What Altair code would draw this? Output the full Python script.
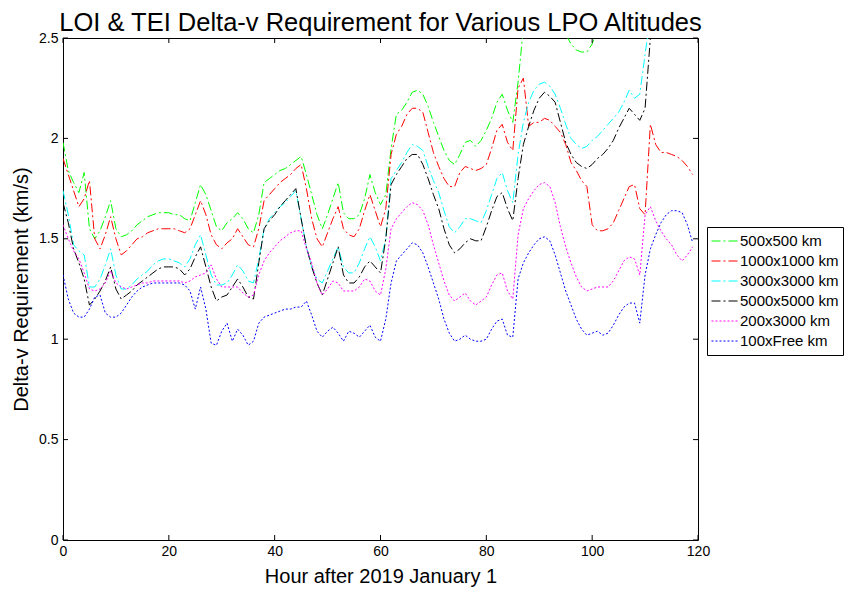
import altair as alt
import pandas as pd

hours = list(range(120))

names = ["500x500 km", "1000x1000 km", "3000x3000 km", "5000x5000 km", "200x3000 km", "100xFree km"]
colors = ["#00ff00", "#ff0000", "#00ffff", "#000000", "#ff00ff", "#0000ff"]

g500 = [1.98,1.84,1.78,1.73,1.83,1.55,1.50,1.54,1.61,1.69,
        1.55,1.51,1.52,1.54,1.57,1.59,1.61,1.62,1.63,1.63,
        1.63,1.62,1.62,1.60,1.59,1.68,1.77,1.72,1.64,1.56,
        1.54,1.58,1.60,1.63,1.60,1.55,1.53,1.62,1.78,1.80,
        1.82,1.84,1.85,1.87,1.89,1.91,1.82,1.72,1.62,1.55,
        1.62,1.70,1.78,1.63,1.60,1.60,1.62,1.70,1.82,1.73,
        1.67,1.72,1.95,2.12,2.14,2.18,2.23,2.24,2.22,2.16,
        2.08,2.01,1.94,1.89,1.87,1.92,1.98,1.99,1.96,1.99,
        2.04,2.10,2.18,2.22,2.14,2.08,2.28,2.55,2.75,2.85,
        2.90,2.90,2.85,2.75,2.60,2.52,2.47,2.44,2.43,2.43,
        2.47,2.55,2.62,2.68,2.74,2.80,2.86,2.92,2.90,2.95,
        3.10,3.30,3.40,3.45,3.40,3.35,3.30,3.25,3.20,3.15]

r1000 = [1.90,1.82,1.74,1.66,1.70,1.79,1.50,1.45,1.52,1.61,
         1.50,1.42,1.44,1.47,1.50,1.51,1.53,1.54,1.55,1.55,
         1.55,1.55,1.54,1.53,1.55,1.62,1.69,1.62,1.52,1.47,
         1.45,1.48,1.50,1.55,1.51,1.47,1.46,1.55,1.69,1.72,
         1.75,1.78,1.80,1.82,1.85,1.87,1.75,1.60,1.50,1.46,
         1.53,1.60,1.66,1.55,1.52,1.51,1.55,1.64,1.72,1.64,
         1.56,1.65,1.92,2.02,2.06,2.12,2.15,2.15,2.13,2.03,
         1.93,1.86,1.80,1.76,1.76,1.83,1.86,1.85,1.84,1.85,
         1.87,1.95,2.04,2.07,1.98,1.94,2.25,2.30,2.06,2.08,
         2.08,2.10,2.09,2.06,2.03,1.97,1.88,1.84,1.79,1.76,
         1.57,1.54,1.54,1.55,1.58,1.64,1.70,1.76,1.77,1.65,
         1.62,2.07,1.97,1.93,1.93,1.92,1.91,1.89,1.86,1.82]

c3000 = [1.74,1.62,1.47,1.44,1.42,1.26,1.26,1.30,1.37,1.45,
         1.32,1.25,1.25,1.27,1.30,1.32,1.34,1.37,1.39,1.40,
         1.40,1.39,1.38,1.36,1.40,1.47,1.52,1.42,1.32,1.27,
         1.27,1.28,1.32,1.37,1.34,1.29,1.28,1.40,1.55,1.60,
         1.63,1.66,1.68,1.71,1.74,1.60,1.46,1.36,1.30,1.28,
         1.34,1.40,1.46,1.36,1.33,1.33,1.38,1.45,1.51,1.46,
         1.39,1.50,1.80,1.84,1.88,1.93,1.97,1.96,1.94,1.86,
         1.79,1.73,1.64,1.56,1.53,1.56,1.60,1.60,1.59,1.58,
         1.64,1.72,1.80,1.83,1.74,1.68,1.92,2.08,2.18,2.24,
         2.27,2.28,2.26,2.22,2.15,2.07,2.00,1.97,1.95,1.96,
         1.99,2.01,2.04,2.07,2.10,2.13,2.18,2.24,2.20,2.22,
         2.42,2.60,2.75,2.85,2.90,2.95,3.00,3.05,3.10,3.15]

k5000 = [1.68,1.58,1.45,1.38,1.30,1.17,1.20,1.24,1.29,1.36,
         1.25,1.20,1.22,1.24,1.27,1.29,1.31,1.33,1.35,1.36,
         1.36,1.36,1.35,1.32,1.35,1.41,1.46,1.36,1.26,1.19,
         1.21,1.22,1.26,1.30,1.26,1.21,1.20,1.38,1.55,1.59,
         1.62,1.66,1.69,1.72,1.75,1.60,1.46,1.36,1.28,1.22,
         1.30,1.38,1.46,1.32,1.28,1.28,1.31,1.36,1.39,1.36,
         1.33,1.50,1.77,1.82,1.86,1.90,1.92,1.92,1.87,1.80,
         1.72,1.65,1.55,1.47,1.43,1.45,1.48,1.50,1.49,1.49,
         1.56,1.64,1.71,1.73,1.65,1.59,1.80,1.97,2.06,2.14,
         2.20,2.23,2.21,2.18,2.08,1.98,1.92,1.88,1.86,1.85,
         1.87,1.90,1.92,1.95,1.99,2.05,2.10,2.15,2.12,2.09,
         2.15,2.50,2.70,2.80,2.85,2.90,2.95,3.00,3.05,3.10]

m200 = [1.57,1.50,1.44,1.40,1.33,1.25,1.24,1.25,1.28,1.34,
        1.28,1.26,1.25,1.26,1.27,1.28,1.28,1.29,1.29,1.29,
        1.29,1.29,1.29,1.28,1.29,1.31,1.32,1.33,1.37,1.30,
        1.26,1.26,1.26,1.26,1.23,1.21,1.22,1.32,1.39,1.43,
        1.46,1.49,1.51,1.53,1.54,1.54,1.45,1.38,1.28,1.22,
        1.25,1.29,1.28,1.24,1.24,1.24,1.26,1.30,1.29,1.24,
        1.22,1.35,1.55,1.60,1.63,1.66,1.68,1.67,1.64,1.57,
        1.47,1.38,1.29,1.22,1.19,1.21,1.23,1.19,1.17,1.19,
        1.21,1.27,1.32,1.33,1.24,1.20,1.52,1.65,1.70,1.74,
        1.77,1.78,1.76,1.68,1.56,1.46,1.38,1.31,1.26,1.24,
        1.25,1.26,1.26,1.26,1.29,1.34,1.39,1.41,1.40,1.32,
        1.62,1.66,1.59,1.54,1.50,1.47,1.42,1.39,1.42,1.46]

b100 = [1.32,1.20,1.13,1.11,1.11,1.15,1.21,1.22,1.13,1.11,
        1.11,1.13,1.17,1.21,1.24,1.26,1.27,1.28,1.28,1.28,
        1.28,1.28,1.28,1.27,1.24,1.15,1.26,1.15,0.98,0.97,
        1.04,1.08,0.99,1.05,1.02,0.97,0.99,1.08,1.11,1.12,
        1.13,1.14,1.15,1.15,1.16,1.16,1.19,1.12,1.04,1.01,
        1.04,1.06,1.03,0.99,1.04,1.03,1.01,1.04,1.07,1.01,
        0.99,1.10,1.28,1.39,1.42,1.45,1.48,1.47,1.43,1.36,
        1.28,1.20,1.10,1.03,0.99,1.00,1.02,1.00,0.99,0.99,
        1.00,1.05,1.09,1.10,1.02,1.01,1.30,1.38,1.43,1.47,
        1.50,1.51,1.49,1.42,1.33,1.24,1.17,1.10,1.05,1.02,
        1.03,1.04,1.02,1.03,1.07,1.12,1.16,1.18,1.18,1.08,
        1.32,1.45,1.52,1.58,1.62,1.64,1.64,1.63,1.57,1.48]

x_ticks = [0, 20, 40, 60, 80, 100, 120]
y_ticks = [0, 0.5, 1, 1.5, 2, 2.5]

series = [g500, r1000, c3000, k5000, m200, b100]
rows = []
for name, vals in zip(names, series):
    for h, v in zip(hours, vals):
        rows.append({"hour": h, "dv": v, "series": name})
df = pd.DataFrame(rows)

W, H = 635, 502
FONT = "Liberation Sans"

xscale = alt.Scale(domain=[0, 120], nice=False)
yscale = alt.Scale(domain=[0, 2.5], nice=False)

legend = alt.Legend(
    title=None, orient="none", legendX=644, legendY=189,
    symbolType="stroke", symbolSize=729, symbolStrokeWidth=1, clipHeight=20,
    labelFontSize=15, labelFont=FONT, labelColor="black",
    strokeColor="black", fillColor="white", padding=4, rowPadding=0,
    labelOffset=1,
)

lines = alt.Chart(df).mark_line(clip=True, strokeWidth=1).encode(
    x=alt.X("hour:Q", scale=xscale,
            axis=alt.Axis(values=x_ticks, title="Hour after 2019 January 1", ticks=False,
                          domain=False, grid=False, labelPadding=4, titlePadding=8,
                          labelFlush=False)),
    y=alt.Y("dv:Q", scale=yscale,
            axis=alt.Axis(values=y_ticks, title="Delta-v Requirement (km/s)", ticks=False,
                          domain=False, grid=False, labelPadding=5, titlePadding=7,
                          labelFlush=False, labelExpr="'' + datum.value")),
    color=alt.Color("series:N", scale=alt.Scale(domain=names, range=colors), legend=legend),
    strokeDash=alt.StrokeDash("series:N",
                              scale=alt.Scale(domain=names,
                                              range=[[9, 3, 2, 3]] * 4 + [[2, 2]] * 2),
                              legend=legend),
    order=alt.Order("hour:Q"),
)

xt = pd.DataFrame({"t": x_ticks})
yt = pd.DataFrame({"t": y_ticks})

xb = alt.Chart(xt).mark_rule(color="black", strokeWidth=1).encode(
    x=alt.X("t:Q", scale=xscale), y=alt.value(H), y2=alt.value(H - 5))
xtop = alt.Chart(xt).mark_rule(color="black", strokeWidth=1).encode(
    x=alt.X("t:Q", scale=xscale), y=alt.value(0), y2=alt.value(5))
yl = alt.Chart(yt).mark_rule(color="black", strokeWidth=1).encode(
    y=alt.Y("t:Q", scale=yscale), x=alt.value(0), x2=alt.value(5))
yr = alt.Chart(yt).mark_rule(color="black", strokeWidth=1).encode(
    y=alt.Y("t:Q", scale=yscale), x=alt.value(W), x2=alt.value(W - 5))

chart = alt.layer(lines, xb, xtop, yl, yr).properties(
    width=W, height=H,
    background="white",
    title=alt.TitleParams("LOI & TEI Delta-v Requirement for Various LPO Altitudes",
                          fontSize=25.5, font=FONT, fontWeight="normal", color="black",
                          anchor="middle", offset=-5),
    autosize=alt.AutoSizeParams(type="none"),
    padding={"left": 55, "top": 30, "right": 149, "bottom": 49},
).configure_view(stroke="black", strokeWidth=1).configure_axis(
    labelFont=FONT, titleFont=FONT, labelFontSize=14, titleFontSize=20,
    labelColor="black", titleColor="black", titleFontWeight="normal",
)

chart.save("out.html", embed_options={"renderer": "svg", "actions": False})
